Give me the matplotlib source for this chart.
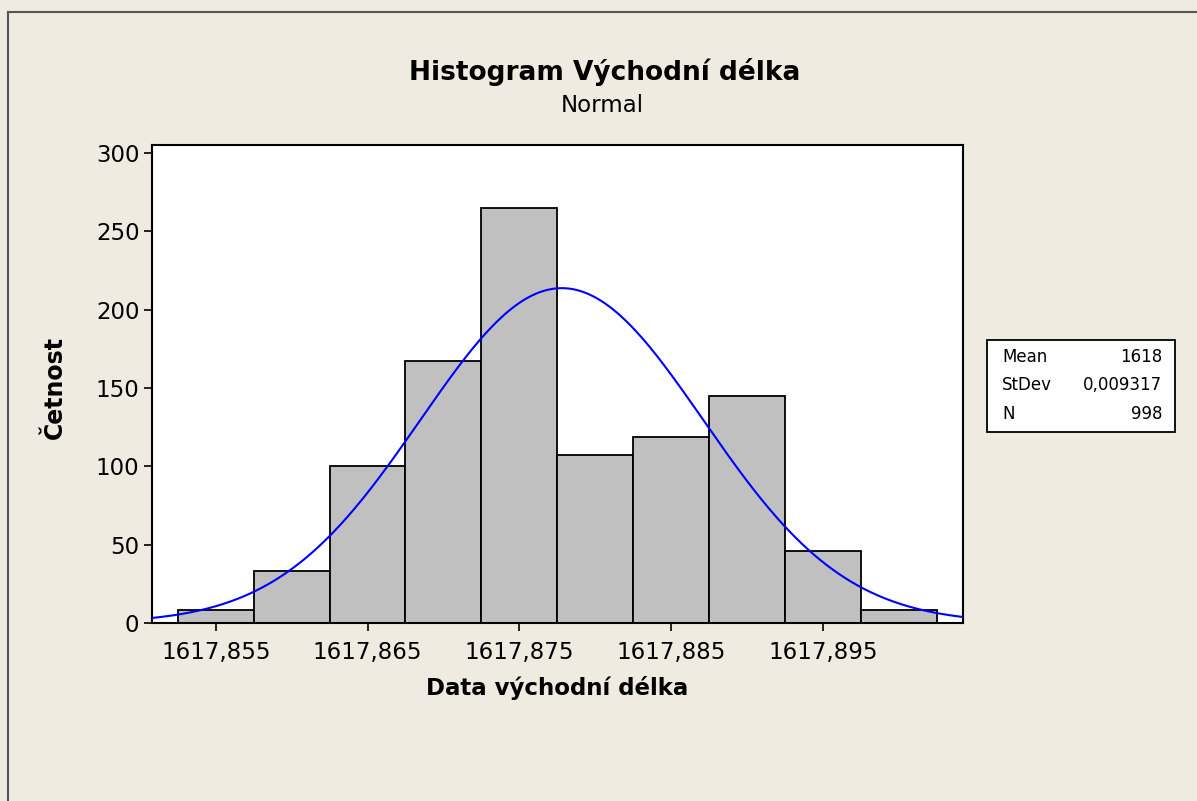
import numpy as np
import matplotlib
matplotlib.use("Agg")
import matplotlib.pyplot as plt
from matplotlib.patches import Rectangle
from matplotlib.lines import Line2D
import matplotlib.ticker as plticker

# histogram data (bin centres, counts)
bin_centers = [1617.855, 1617.860, 1617.865, 1617.870, 1617.875,
               1617.880, 1617.885, 1617.890, 1617.895, 1617.900]
counts = [8, 33, 100, 167, 265, 107, 119, 145, 46, 8]
bin_width = 0.005

# fit parameters
mean = 1617.8778
stdev = 0.009317
n_obs = 998

x_ticks = [1617.855, 1617.865, 1617.875, 1617.885, 1617.895]
y_ticks = [0, 50, 100, 150, 200, 250, 300]

stats_labels = ["Mean", "StDev", "N"]
stats_values = ["1618", "0,009317", "998"]

W, H = 1197, 801
BG = "#EFEBE1"

plt.rcParams['font.family'] = ['DejaVu Sans']

fig = plt.figure(figsize=(W / 100, H / 100), dpi=100, facecolor=BG)

def fx(px):
    return px / W

def fy(py):
    return 1 - py / H

# outer frame (left + top edges visible)
fig.add_artist(Line2D([fx(8), fx(8)], [fy(12), 0], color="#555555", lw=1.5))
fig.add_artist(Line2D([fx(8), 1], [fy(12), fy(12)], color="#555555", lw=1.5))

ax = fig.add_axes([fx(152), fy(623), fx(962.5) - fx(152), fy(145) - fy(623)])
ax.set_facecolor("white")

ax.bar(bin_centers, counts, width=bin_width, color="#C0C0C0",
       edgecolor="black", linewidth=1.3, zorder=2)

xmin, xmax = 1617.8508, 1617.9042
xs = np.linspace(xmin, xmax, 400)
pdf = np.exp(-0.5 * ((xs - mean) / stdev) ** 2) / (stdev * np.sqrt(2 * np.pi))
ax.plot(xs, n_obs * bin_width * pdf, color="#0000FF", lw=1.5, zorder=3)

ax.set_xlim(xmin, xmax)
ax.set_ylim(0, 305)
ax.set_xticks(x_ticks)
ax.set_yticks(y_ticks)
ax.xaxis.set_major_formatter(plticker.FuncFormatter(
    lambda v, p: f"{v:.3f}".replace(".", ",")))

ax.tick_params(direction="out", length=6, width=1.2, labelsize=16.5,
               colors="black")
ax.tick_params(axis="x", pad=7)
ax.tick_params(axis="y", pad=3)
for s in ax.spines.values():
    s.set_linewidth(1.5)
    s.set_color("black")

# titles and labels
fig.text(fx(605), fy(72), "Histogram Východní délka", ha="center",
         va="center", fontsize=19, fontweight="bold")
fig.text(fx(602), fy(106), "Normal", ha="center", va="center", fontsize=16.5)
fig.text(fx(557), fy(688), "Data východní délka", ha="center", va="center",
         fontsize=16.5, fontweight="bold")
fig.text(fx(55), fy(387), "Četnost", ha="center", va="center",
         fontsize=17, fontweight="bold", rotation=90)

# stats box
fig.add_artist(Rectangle((fx(987), fy(432)), fx(1175) - fx(987),
                         fy(340) - fy(432), transform=fig.transFigure,
                         facecolor="white", edgecolor="black", lw=1.3))
row_y = [357, 385, 414]
for lab, val, yy in zip(stats_labels, stats_values, row_y):
    fig.text(fx(1002), fy(yy), lab, ha="left", va="center", fontsize=12)
    fig.text(fx(1162), fy(yy), val, ha="right", va="center", fontsize=12)

fig.savefig("out.png", dpi=100, facecolor=BG)
